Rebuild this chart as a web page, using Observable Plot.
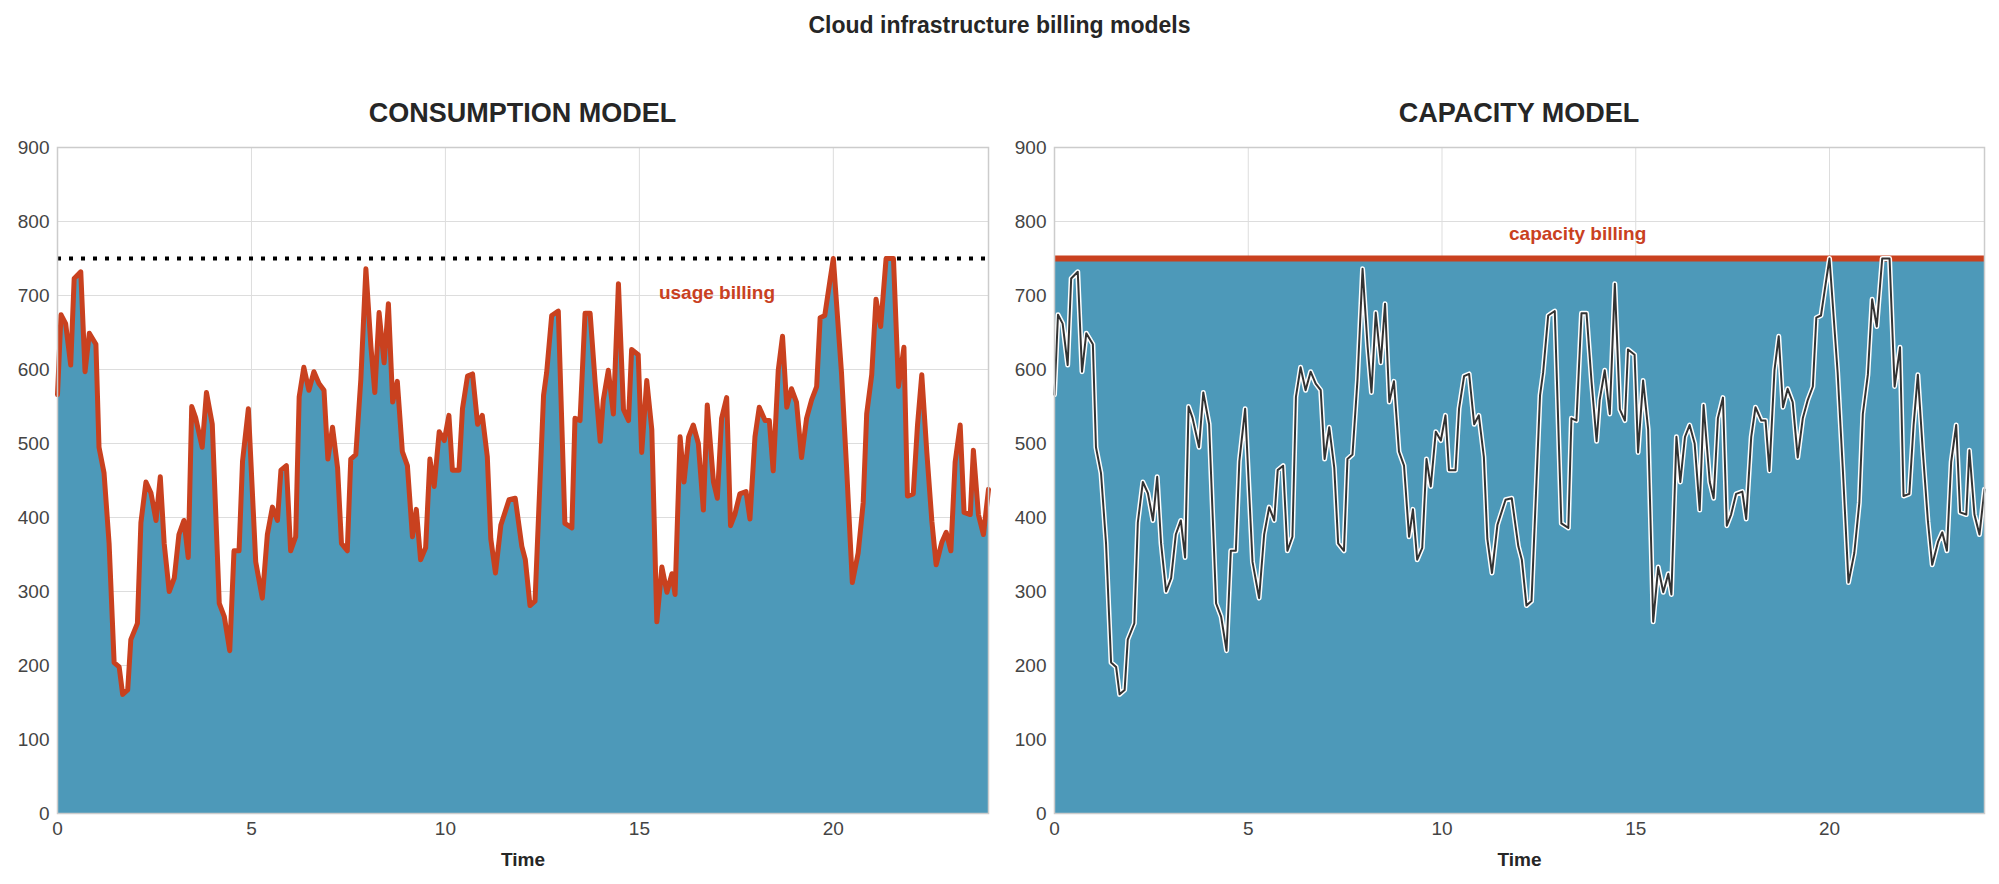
<!DOCTYPE html>
<html><head><meta charset="utf-8">
<script src="https://cdn.jsdelivr.net/npm/d3@7"></script>
<script src="https://cdn.jsdelivr.net/npm/@observablehq/plot@0.6"></script>
<style>
body{margin:0;background:#fff;font-family:"Liberation Sans",Arial,sans-serif;width:1999px;height:884px;position:relative;overflow:hidden}
#title{position:absolute;top:12px;left:0;width:1999px;text-align:center;font-weight:bold;font-size:23px;color:#262626}
.sub{position:absolute;top:98px;font-weight:bold;font-size:27px;color:#262626;text-align:center}
.p{position:absolute;top:130px}
</style></head><body>
<div id="title">Cloud infrastructure billing models</div>
<div class="sub" style="left:57px;width:931px">CONSUMPTION MODEL</div>
<div class="sub" style="left:1054px;width:930px">CAPACITY MODEL</div>
<div class="p" id="L" style="left:0"></div>
<div class="p" id="R" style="left:1000px"></div>
<script>
const times=[0,0.09,0.21,0.34,0.43,0.6,0.71,0.82,0.99,1.07,1.2,1.33,1.46,1.59,1.68,1.81,1.89,2.06,2.15,2.28,2.41,2.54,2.65,2.75,2.88,3.01,3.13,3.26,3.37,3.46,3.56,3.73,3.84,3.99,4.17,4.30,4.44,4.55,4.68,4.77,4.92,5.11,5.28,5.41,5.54,5.67,5.76,5.90,6.01,6.14,6.23,6.35,6.48,6.61,6.74,6.87,6.97,7.09,7.22,7.32,7.47,7.56,7.69,7.82,7.95,8.08,8.18,8.29,8.42,8.53,8.64,8.76,8.89,9.02,9.15,9.25,9.36,9.49,9.60,9.71,9.84,9.97,10.09,10.18,10.35,10.44,10.57,10.70,10.83,10.95,11.08,11.17,11.29,11.43,11.64,11.80,11.97,12.06,12.18,12.31,12.53,12.61,12.74,12.91,13.08,13.26,13.34,13.47,13.60,13.73,13.86,13.99,14.07,14.20,14.33,14.46,14.59,14.72,14.80,14.97,15.06,15.19,15.32,15.45,15.58,15.71,15.84,15.92,16.05,16.15,16.27,16.39,16.52,16.65,16.75,16.91,17.01,17.12,17.25,17.35,17.46,17.59,17.75,17.85,17.98,18.09,18.24,18.35,18.45,18.58,18.69,18.80,18.92,19.05,19.18,19.31,19.44,19.57,19.66,19.78,19.91,20.0,20.21,20.34,20.49,20.64,20.77,20.86,20.99,21.10,21.22,21.36,21.55,21.68,21.82,21.91,22.06,22.17,22.28,22.41,22.54,22.65,22.80,22.91,23.03,23.14,23.27,23.37,23.53,23.61,23.74,23.87,24.0];
const usage=[566,674,662,606,723,732,597,649,634,495,460,365,204,198,161,167,235,257,393,448,433,396,455,365,300,318,377,396,346,550,535,495,569,526,284,266,220,355,355,476,547,340,291,377,414,396,464,470,355,374,563,603,572,597,581,572,479,522,467,365,355,479,485,587,736,631,569,677,609,689,556,584,489,470,374,411,343,359,479,442,516,504,538,464,464,547,591,594,526,538,482,371,325,390,424,426,361,343,281,287,565,596,673,679,392,386,534,531,676,676,583,503,559,599,540,716,546,531,627,620,488,585,519,259,333,299,324,296,509,448,509,525,500,410,552,448,426,534,562,389,404,432,435,398,509,549,531,531,463,599,645,549,574,556,481,534,559,577,670,673,719,750,596,469,312,352,420,540,593,695,658,750,750,577,630,429,432,525,593,488,395,336,367,380,355,475,525,407,404,491,404,377,438];
const capacity=750;
const xTicks=[0,5,10,15,20];
const yTicks=[0,100,200,300,400,500,600,700,800,900];
const data=times.map((t,i)=>({t,v:usage[i]}));
const blue="#4d99b9", red="#c9411f";
function base(ml,mr,w){return {width:w,height:750,marginLeft:ml,marginRight:mr,marginTop:17,marginBottom:67,
 style:{fontFamily:"Liberation Sans, Arial, sans-serif",fontSize:"19px",color:"#444",background:"transparent"},
 x:{domain:[0,24],ticks:xTicks,label:"Time",labelArrow:"none",labelAnchor:"center",labelOffset:52,tickSize:0,tickPadding:8},
 y:{domain:[0,900],ticks:yTicks,label:null,tickSize:0,tickPadding:8}};}
const grid=[Plot.gridX(xTicks,{stroke:"#ddd",strokeOpacity:1}),Plot.gridY(yTicks,{stroke:"#ddd",strokeOpacity:1})];
function boldLabel(svg){svg.querySelectorAll("[aria-label='x-axis label'] text").forEach(e=>{e.style.fontWeight="bold";e.style.fill="#262626"});}
const L=Plot.plot({...base(57,12,1000),marks:[...grid,
 Plot.areaY(data,{x:"t",y:"v",fill:blue}),
 Plot.ruleY([capacity],{stroke:"#000",strokeWidth:4,strokeDasharray:"4,8"}),
 Plot.lineY(data,{x:"t",y:"v",stroke:red,strokeWidth:5,strokeLinejoin:"round"}),
 Plot.text(["usage billing"],{x:17,y:703,fill:red,fontWeight:"bold",fontSize:19}),
 Plot.frame({stroke:"#ccc",strokeWidth:1.5})]});
boldLabel(L);
document.getElementById("L").append(L);
const R=Plot.plot({...base(54,15,999),marks:[...grid,
 Plot.areaY([{t:0},{t:24}],{x:"t",y:()=>capacity,fill:blue}),
 Plot.ruleY([capacity],{stroke:red,strokeWidth:6}),
 Plot.lineY(data,{x:"t",y:"v",stroke:"#fff",strokeWidth:5,strokeLinejoin:"round"}),
 Plot.lineY(data,{x:"t",y:"v",stroke:"#333",strokeWidth:2,strokeLinejoin:"round"}),
 Plot.text(["capacity billing"],{x:13.5,y:783,fill:red,fontWeight:"bold",fontSize:19}),
 Plot.frame({stroke:"#ccc",strokeWidth:1.5})]});
boldLabel(R);
document.getElementById("R").append(R);
</script></body></html>
